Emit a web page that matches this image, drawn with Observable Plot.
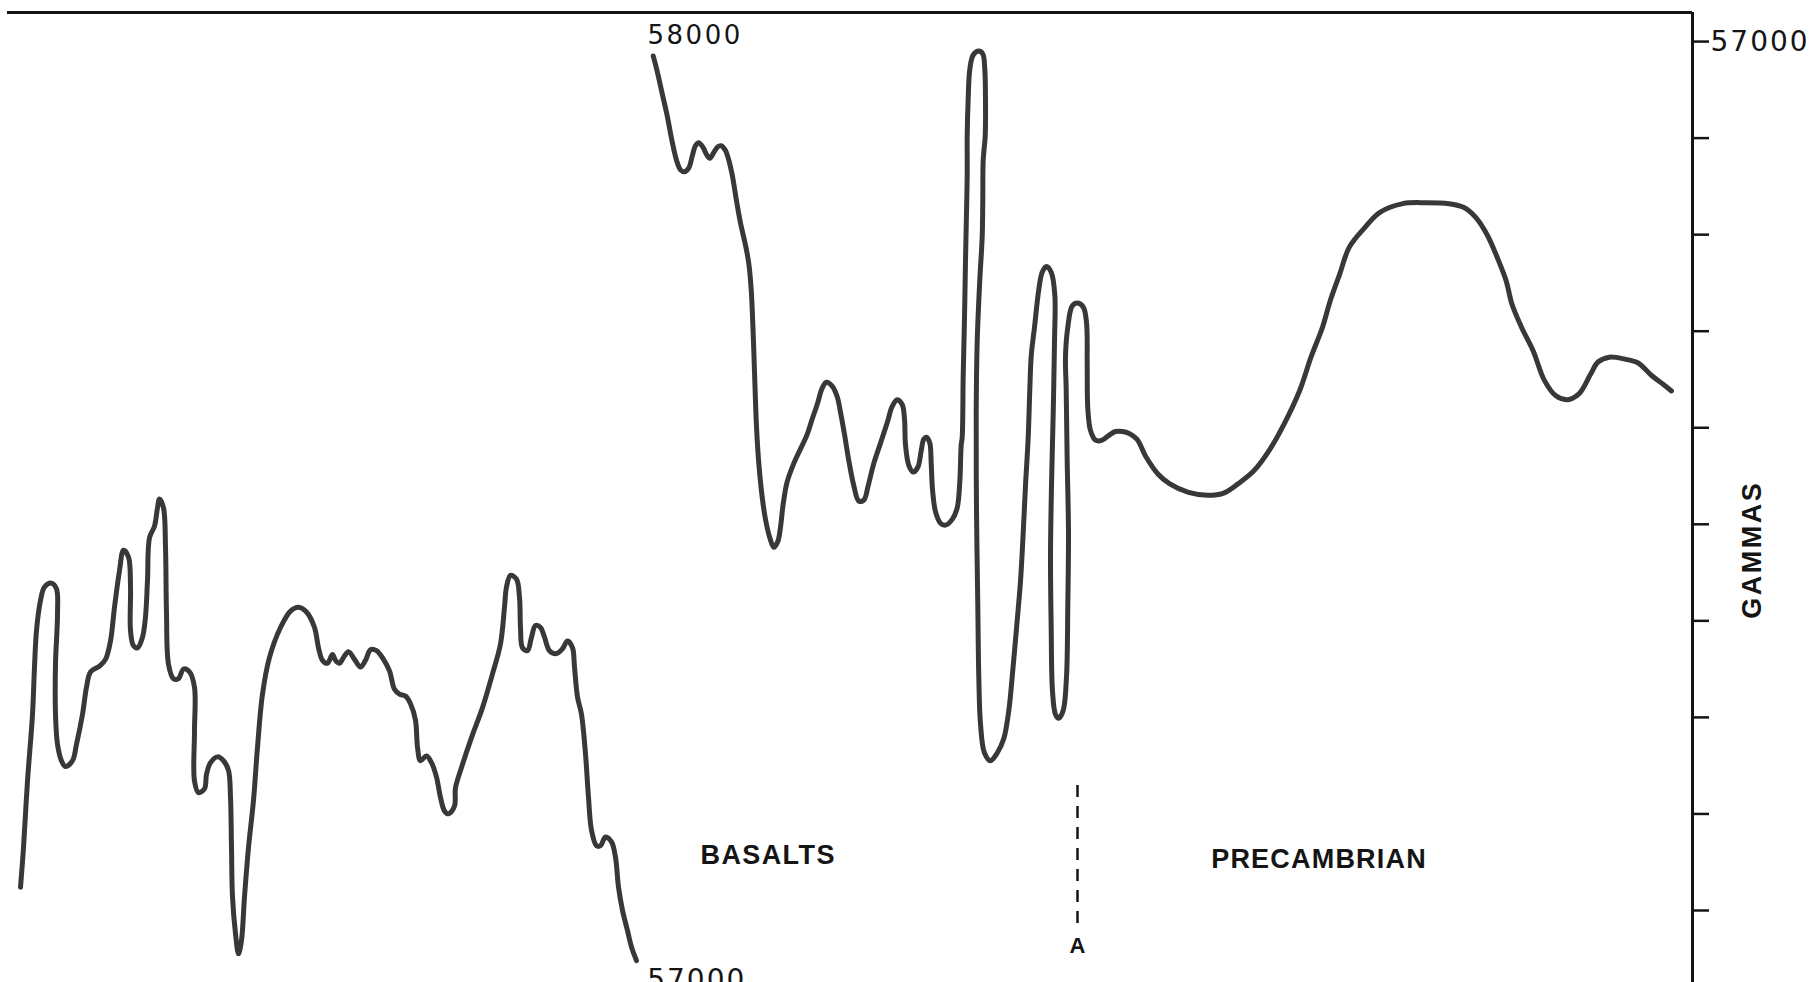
<!DOCTYPE html>
<html>
<head>
<meta charset="utf-8">
<script src="https://cdn.jsdelivr.net/npm/d3@7"></script>
<script src="https://cdn.jsdelivr.net/npm/@observablehq/plot@0.6"></script>
<style>
  html, body { margin: 0; padding: 0; background: #fff; overflow: hidden; }
  #chart svg { display: block; }
</style>
</head>
<body>
<div id="chart"></div>
<script>
// ---- Data (distance units along the profile, total field in gammas) ----
const seg1X = [
  2.0,2.3,2.7,3.2,3.4,3.6,4.0,4.4,5.1,5.6,
  5.7,5.5,5.5,5.7,6.1,6.5,7.2,7.6,8.2,8.6,
  9.0,9.9,10.5,11.0,11.4,11.9,12.3,12.8,13.0,13.0,
  13.3,13.7,14.2,14.5,14.7,14.9,15.4,15.7,15.9,16.3,
  16.5,16.6,16.8,17.3,17.8,18.3,18.9,19.4,19.4,19.4,
  19.8,20.4,20.6,21.0,21.7,22.3,22.8,23.0,23.1,23.2,
  23.5,23.8,24.1,24.4,24.8,25.3,25.7,26.2,26.9,28.0,
  29.0,29.8,30.6,31.4,31.8,32.2,32.7,33.2,33.5,33.9,
  34.3,34.8,35.4,36.0,36.5,37.0,37.6,38.3,38.9,39.4,
  39.9,40.5,41.0,41.5,41.7,42.0,42.6,43.1,43.6,44.0,
  44.4,44.8,45.4,45.5,46.1,47.1,48.2,49.2,50.0,50.4,
  50.6,51.0,51.6,51.9,52.0,52.2,52.7,53.1,53.5,54.0,
  54.4,54.9,55.6,56.2,56.7,57.2,57.4,57.7,58.1,58.5,
  58.8,59.1,59.6,60.0,60.5,61.1,61.5,61.8,62.2,62.7,
  63.1,63.6
];
const seg1G = [
  56121,56162,56231,56300,56349,56387,56418,56432,56436,56430,
  56404,56352,56300,56269,56252,56246,56252,56269,56300,56328,
  56344,56350,56357,56376,56411,56449,56470,56463,56432,56387,
  56371,56369,56380,56401,56439,56483,56495,56514,56523,56514,
  56473,56404,56352,56337,56337,56347,56344,56328,56283,56231,
  56219,56223,56238,56250,56256,56252,56242,56214,56162,56111,
  56073,56052,56066,56111,56162,56211,56266,56321,56359,56390,
  56407,56411,56406,56390,56369,56356,56353,56362,56356,56353,
  56359,56365,56357,56349,56356,56367,56366,56357,56345,56326,
  56321,56319,56311,56294,56266,56252,56257,56250,56235,56214,
  56200,56197,56205,56224,56245,56276,56307,56342,56373,56411,
  56432,56444,56440,56421,56390,56369,56366,56380,56392,56390,
  56380,56366,56363,56368,56376,56369,56349,56318,56300,56259,
  56214,56180,56164,56164,56173,56168,56152,56121,56097,56076,
  56059,56045
];

const seg2X = [
  65.27,65.67,66.17,66.67,67.17,67.6,68.0,68.4,68.83,69.17,
  69.5,69.83,70.27,70.6,70.93,71.33,71.73,72.07,72.5,72.83,
  73.17,73.6,74.0,74.5,74.83,75.07,75.27,75.4,75.6,75.83,
  76.17,76.5,76.93,77.33,77.73,78.0,78.27,78.67,79.33,80.0,
  80.67,81.17,81.67,82.17,82.6,83.17,83.67,84.0,84.4,84.83,
  85.33,85.83,86.33,86.77,87.33,88.0,88.67,89.17,89.67,90.17,
  90.4,90.5,90.83,91.27,91.73,92.07,92.33,92.6,92.93,93.07,
  93.2,93.5,94.0,94.5,95.17,95.67,95.93,96.07,
  96.17,96.27,96.4,96.5,96.6,96.67,96.67,96.77,96.93,97.27,
  97.83,98.23,98.43,98.5,98.47,98.27,98.23,98.17,97.93,97.67,
  97.57,97.6,97.73,97.83,98.0,98.4,99.0,99.67,100.33,100.83,
  101.17,101.6,102.0,102.27,102.5,102.77,102.93,103.07,103.4,103.83,
  104.17,104.6,105.07,105.43,105.4,105.27,105.1,105.0,105.07,105.2,
  105.5,105.83,106.27,106.6,106.73,106.8,106.67,106.57,106.5,106.73,
  107.17,107.67,108.27,108.6,108.67,108.73,109.0,109.5,110.17,110.83,
  111.5,112.2,
  112.87,113.64,114.59,115.74,116.89,118.8,120.72,122.25,123.78,125.31,
  126.84,128.37,129.9,131.05,132.2,132.96,133.92,134.88,136.41,137.94,
  140.23,142.53,144.83,146.36,147.5,148.65,149.8,150.57,151.14,152.1,
  153.25,154.39,155.54,156.69,157.84,158.99,159.75,160.9,162.43,163.77,
  165.11,166.26,167.1
];
const seg2G = [
  56982,56966,56943,56920,56893,56874,56864,56862,56866,56878,
  56889,56892,56887,56880,56876,56882,56888,56889,56884,56874,
  56859,56832,56809,56786,56767,56740,56694,56655,56598,56560,
  56525,56502,56483,56473,56479,56494,56518,56541,56560,56575,
  56590,56606,56621,56638,56644,56640,56629,56613,56590,56563,
  56537,56521,56522,56537,56560,56581,56602,56619,56626,56621,
  56606,56579,56558,56551,56556,56573,56585,56587,56581,56560,
  56533,56510,56498,56496,56502,56514,56541,56579,
  56587,56651,56711,56770,56820,56859,56899,56938,56968,56983,
  56987,56984,56968,56934,56899,56874,56834,56795,56750,56686,
  56612,56513,56413,56339,56290,56260,56252,56260,56275,56304,
  56339,56389,56438,56488,56537,56587,56636,56671,56701,56740,
  56758,56764,56758,56735,56686,56612,56537,56463,56389,56324,
  56300,56296,56304,56339,56413,56488,56562,56636,56671,56701,
  56723,56726,56722,56706,56661,56617,56594,56584,56584,56589,
  56593,56593,
  56591,56585,56566,56549,56539,56530,56527,56529,56539,56552,
  56573,56601,56635,56670,56701,56728,56756,56784,56804,56820,
  56829,56830,56829,56825,56815,56797,56770,56749,56725,56701,
  56677,56646,56630,56626,56632,56652,56665,56670,56668,56664,
  56651,56642,56635
];

// Scale extents and axis ticks
const xDomain = [0, 169.2];
const yDomain = [56022.3, 57027.0];
const yTicks = [57000, 56900, 56800, 56700, 56600, 56500, 56400, 56300, 56200, 56100];
const labelledTicks = [57000];

// Annotations
const rockNames = ["BASALTS", "PRECAMBRIAN"];
const rockX = [70.0, 121.07];
const rockG = [56145.5, 56141.1];

const traceValueLabel = ["58000"];
const traceValueX = [64.7];
const traceValueG = [56994.8];
const bottomValueLabel = ["57000"];
const bottomValueX = [64.67];
const bottomValueG = [56015.4];

const contactName = ["A"];
const contactX = [107.7];
const contactTop = [56226.3];
const contactBottom = [56079.3];
const contactLabelG = [56052.4];

const unitName = ["GAMMAS"];
const unitX = [175.2];
const unitG = [56470.6];

// letter spacing per label (lettering of the original is widely spaced)
const spacingNames = ["BASALTS", "PRECAMBRIAN", "58000", "57000", "GAMMAS"];
const spacingValues = [1.4, 1.2, 2.5, 2, 2.5];

// ---- Build tables ----
const rows = [
  ...seg1X.map((x, i) => ({x, g: seg1G[i], seg: "west"})),
  ...seg2X.map((x, i) => ({x, g: seg2G[i], seg: "east"}))
];
const rocks = rockNames.map((t, i) => ({t, x: rockX[i], g: rockG[i]}));
const topVals = traceValueLabel.map((t, i) => ({t, x: traceValueX[i], g: traceValueG[i]}));
const botVals = bottomValueLabel.map((t, i) => ({t, x: bottomValueX[i], g: bottomValueG[i]}));
const contacts = contactName.map((t, i) => ({t, x: contactX[i], g1: contactTop[i], g2: contactBottom[i], gl: contactLabelG[i]}));
const units = unitName.map((t, i) => ({t, x: unitX[i], g: unitG[i]}));

const ink = "#151515";

const chart = Plot.plot({
  width: 1809,
  height: 982,
  marginTop: 12,
  marginRight: 117,
  marginBottom: 0,
  marginLeft: 0,
  x: {domain: xDomain, axis: null},
  y: {domain: yDomain, axis: null},
  style: {background: "#fff", color: ink},
  marks: [
    Plot.ruleY([yDomain[1]], {x1: 0.7, x2: xDomain[1], stroke: ink, strokeWidth: 3}),
    Plot.ruleX([xDomain[1]], {y1: yDomain[0], y2: yDomain[1], stroke: ink, strokeWidth: 3}),
    Plot.axisY({
      anchor: "right",
      ticks: yTicks,
      tickSize: 16,
      tickPadding: 2,
      strokeWidth: 2.5,
      color: ink,
      tickFormat: d => labelledTicks.includes(d) ? String(d) : "",
      fontSize: 28,
      fontFamily: "DejaVu Sans",
      dy: 3
    }),
    Plot.line(rows, {
      x: "x", y: "g", z: "seg",
      curve: "catmull-rom",
      stroke: "#383838",
      strokeWidth: 5,
      strokeLinejoin: "round",
      strokeLinecap: "round"
    }),
    Plot.ruleX(contacts, {x: "x", y1: "g1", y2: "g2", stroke: ink, strokeWidth: 2.5, strokeDasharray: "12,9"}),
    Plot.text(contacts, {x: "x", y: "gl", text: "t", textAnchor: "middle", lineAnchor: "bottom",
      fontSize: 22, fontWeight: "bold", fontFamily: "Liberation Sans", fill: ink}),
    Plot.text(rocks, {x: "x", y: "g", text: "t", textAnchor: "start", lineAnchor: "bottom",
      fontSize: 27, fontWeight: "bold", fontFamily: "Liberation Sans", fill: ink}),
    Plot.text(topVals, {x: "x", y: "g", text: "t", textAnchor: "start", lineAnchor: "bottom",
      fontSize: 26, fontFamily: "DejaVu Sans", fill: ink}),
    Plot.text(botVals, {x: "x", y: "g", text: "t", textAnchor: "start", lineAnchor: "bottom",
      fontSize: 28, fontFamily: "DejaVu Sans", fill: ink}),
    Plot.text(units, {x: "x", y: "g", text: "t", rotate: -90, textAnchor: "middle", lineAnchor: "middle",
      fontSize: 27, fontWeight: "bold", fontFamily: "Liberation Sans", fill: ink})
  ]
});

d3.select(chart).selectAll("text").each(function () {
  const i = spacingNames.indexOf(this.textContent);
  if (i >= 0) this.setAttribute("letter-spacing", spacingValues[i]);
});

document.getElementById("chart").appendChild(chart);
</script>
</body>
</html>
